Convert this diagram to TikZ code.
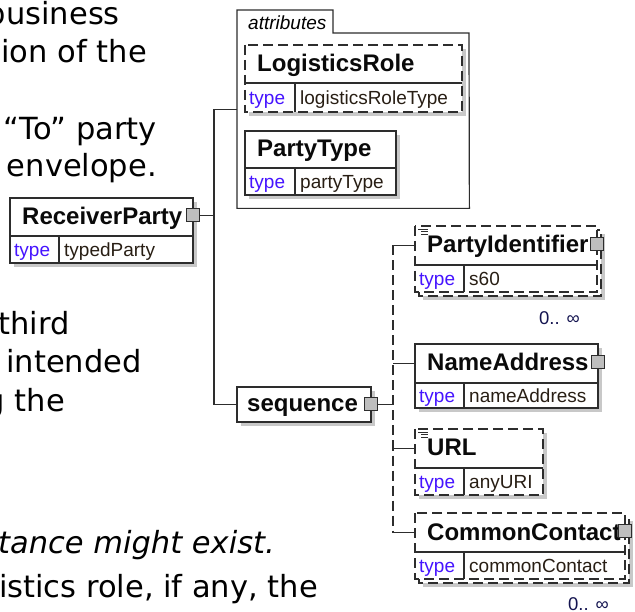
\documentclass[tikz,border=0pt]{standalone}
\usepackage{fontspec}
\setmainfont{Liberation Sans}
\newfontfamily\prosefont{DejaVu Sans}
\definecolor{linec}{RGB}{45,45,45}
\definecolor{shadowc}{RGB}{200,200,200}
\definecolor{typec}{RGB}{70,20,255}
\definecolor{namec}{RGB}{10,10,10}
\definecolor{valc}{RGB}{40,30,20}
\definecolor{occc}{RGB}{20,20,80}
\definecolor{expc}{RGB}{190,190,190}
\tikzset{
  wire/.style={draw=linec, line width=1.2pt},
  dash box/.style={dash pattern=on 10pt off 5pt},
  cell/.style={fill=white, inner sep=0pt, outer sep=0pt, draw=none},
  nametext/.style={inner sep=0pt, anchor=base west, text=namec, font=\fontsize{24}{26}\selectfont\bfseries},
  typetext/.style={inner sep=0pt, anchor=base west, text=typec, font=\fontsize{19}{22}\selectfont},
  valtext/.style={inner sep=0pt, anchor=base west, text=valc, font=\fontsize{19}{22}\selectfont},
  prose/.style={inner sep=0pt, anchor=base east, text=black, font=\prosefont\fontsize{30.5}{36}\selectfont},
  occ/.style={inner sep=0pt, anchor=base west, text=occc, font=\fontsize{18.5}{21}\selectfont},
  expander/.style={draw=linec, line width=1pt, fill=expc, minimum width=13pt, minimum height=13pt, inner sep=0pt},
}
\newcommand\shadowrect[4]{\fill[shadowc] (#1+4,#2+4) rectangle (#3+4,#4+4);}
\newcommand\ebox[8]{%
  \node[cell,minimum width=#4-#2,minimum height=#5-#3,anchor=north west] (#1) at (#2,#3) {};
  \node[cell,minimum width=#7-#2,minimum height=#6-#5,anchor=north west] (#1t) at (#2,#5) {};
  \node[cell,minimum width=#4-#7,minimum height=#6-#5,anchor=north west] (#1v) at (#7,#5) {};
  \draw[wire] (#1t.north west) -- (#1v.north east) (#1v.north west) -- (#1v.south west);
  \draw[wire,#8] (#1.north west) rectangle (#1v.south east);
}
\newcommand\etext[3]{%
  \node[nametext,xshift=12pt,yshift=-7.5pt] (#1n) at (#1.west) {#2};
  \node[typetext,xshift=4pt,yshift=-7pt] (#1tt) at (#1t.west) {type};
  \node[valtext,xshift=5pt,yshift=-7pt] (#1vt) at (#1v.west) {#3};
}
\newcommand\docicon[1]{\draw[linec, line width=0.9pt]
  ([shift={(3,3)}]#1.north west) -- ([shift={(13,3)}]#1.north west)
  ([shift={(6,5.5)}]#1.north west) -- ([shift={(13,5.5)}]#1.north west)
  ([shift={(6,8)}]#1.north west) -- ([shift={(13,8)}]#1.north west);}
\begin{document}
\begin{tikzpicture}[x=1pt,y=-1pt]
\useasboundingbox (0,0) rectangle (635,612);
\clip (0,0) rectangle (635,612);
\fill[white] (0,0) rectangle (635,612);

% prose text (cropped at the left)
\node[prose] (p1) at (120,25) {business};
\node[prose] (p2) at (147,63) {ion of the};
\node[prose] (p3) at (157,140) {“To” party};
\node[prose] (p4) at (157,177) {envelope.};
\node[prose] (p5) at (70,335) {third};
\node[prose] (p6) at (142,373) {intended};
\node[prose] (p7) at (65,412) {g the};
\node[prose,font=\prosefont\itshape\fontsize{30.5}{36}\selectfont] (p8) at (275,553) {stance might exist.};
\node[prose] (p9) at (318,597) {gistics role, if any, the};

% attributes frame
\node[inner sep=0pt, minimum width=232pt, minimum height=198pt, anchor=north west] (attr) at (237,10) {};
\draw[wire] (attr.south west) -- (attr.north west) -- (333,10) -- (333,33) -- (469,33) -- (attr.south east) -- cycle;
\node[inner sep=0pt, anchor=base west, font=\fontsize{19}{22}\selectfont\itshape] (attrlbl) at (248,30) {attributes};

% ReceiverParty
\shadowrect{10}{198}{193}{263}
\ebox{rp}{10}{198}{193}{236}{263}{59}{solid}
\etext{rp}{ReceiverParty}{typedParty}
\node[expander] (rpx) at ([yshift=1.5pt]rp.east) {};

% LogisticsRole
\shadowrect{245}{45}{462}{112}
\ebox{lr}{245}{45}{462}{83}{112}{295}{dash box}
\etext{lr}{LogisticsRole}{logisticsRoleType}

% PartyType
\shadowrect{245}{131}{396}{195}
\ebox{ptype}{245}{131}{396}{168}{195}{295}{solid}
\etext{ptype}{PartyType}{partyType}

% sequence
\shadowrect{237}{387}{371}{422}
\node[cell, wire, minimum width=134pt, minimum height=35pt, anchor=north west] (seq) at (237,387) {};
\node[nametext, xshift=10pt, yshift=-7.5pt] (seqn) at (seq.west) {sequence};
\node[expander] (seqx) at (seq.east) {};

% PartyIdentifier
\shadowrect{419}{230}{601}{296}
\draw[wire,dash box,fill=white] (419,230) rectangle (601,296);
\ebox{pi}{415}{226}{597}{265}{292}{464}{dash box}
\etext{pi}{PartyIdentifier}{s60}
\node[expander] (pix) at ([yshift=1.5pt]pi.east) {};
\docicon{pi}
\node[occ] (pio) at (539,325) {0.. ∞};

% NameAddress
\shadowrect{415}{344}{598}{408}
\ebox{na}{415}{344}{598}{383}{408}{464}{solid}
\etext{na}{NameAddress}{nameAddress}
\node[expander] (nax) at ([yshift=1.5pt]na.east) {};

% URL
\shadowrect{415}{429}{543}{495}
\ebox{url}{415}{429}{543}{468}{495}{464}{dash box}
\etext{url}{URL}{anyURI}
\docicon{url}

% CommonContact
\shadowrect{419}{517}{629}{583}
\draw[wire,dash box,fill=white] (419,517) rectangle (629,583);
\ebox{cc}{415}{513}{625}{552}{579}{464}{dash box}
\etext{cc}{CommonContact}{commonContact}
\node[expander] (ccx) at ([yshift=1.5pt]cc.east) {};
\node[occ] (cco) at (568,610) {0.. ∞};

% connectors
\coordinate (bus1) at (214,0);
\coordinate (bus2) at (393,0);
\draw[wire] (rpx.east) -- (rpx.east -| bus1);
\draw[wire] (attr.west) -| (bus1 |- seq.west) -- (seq.west);
\draw[wire] (seqx.east) -- (seqx.east -| bus2);
\draw[wire,dash box] (bus2 |- pi.west) -- (bus2 |- cc.west);
\foreach \c in {pi,na,url,cc} \draw[wire] (bus2 |- \c.west) -- (\c.west);
\end{tikzpicture}
\end{document}
